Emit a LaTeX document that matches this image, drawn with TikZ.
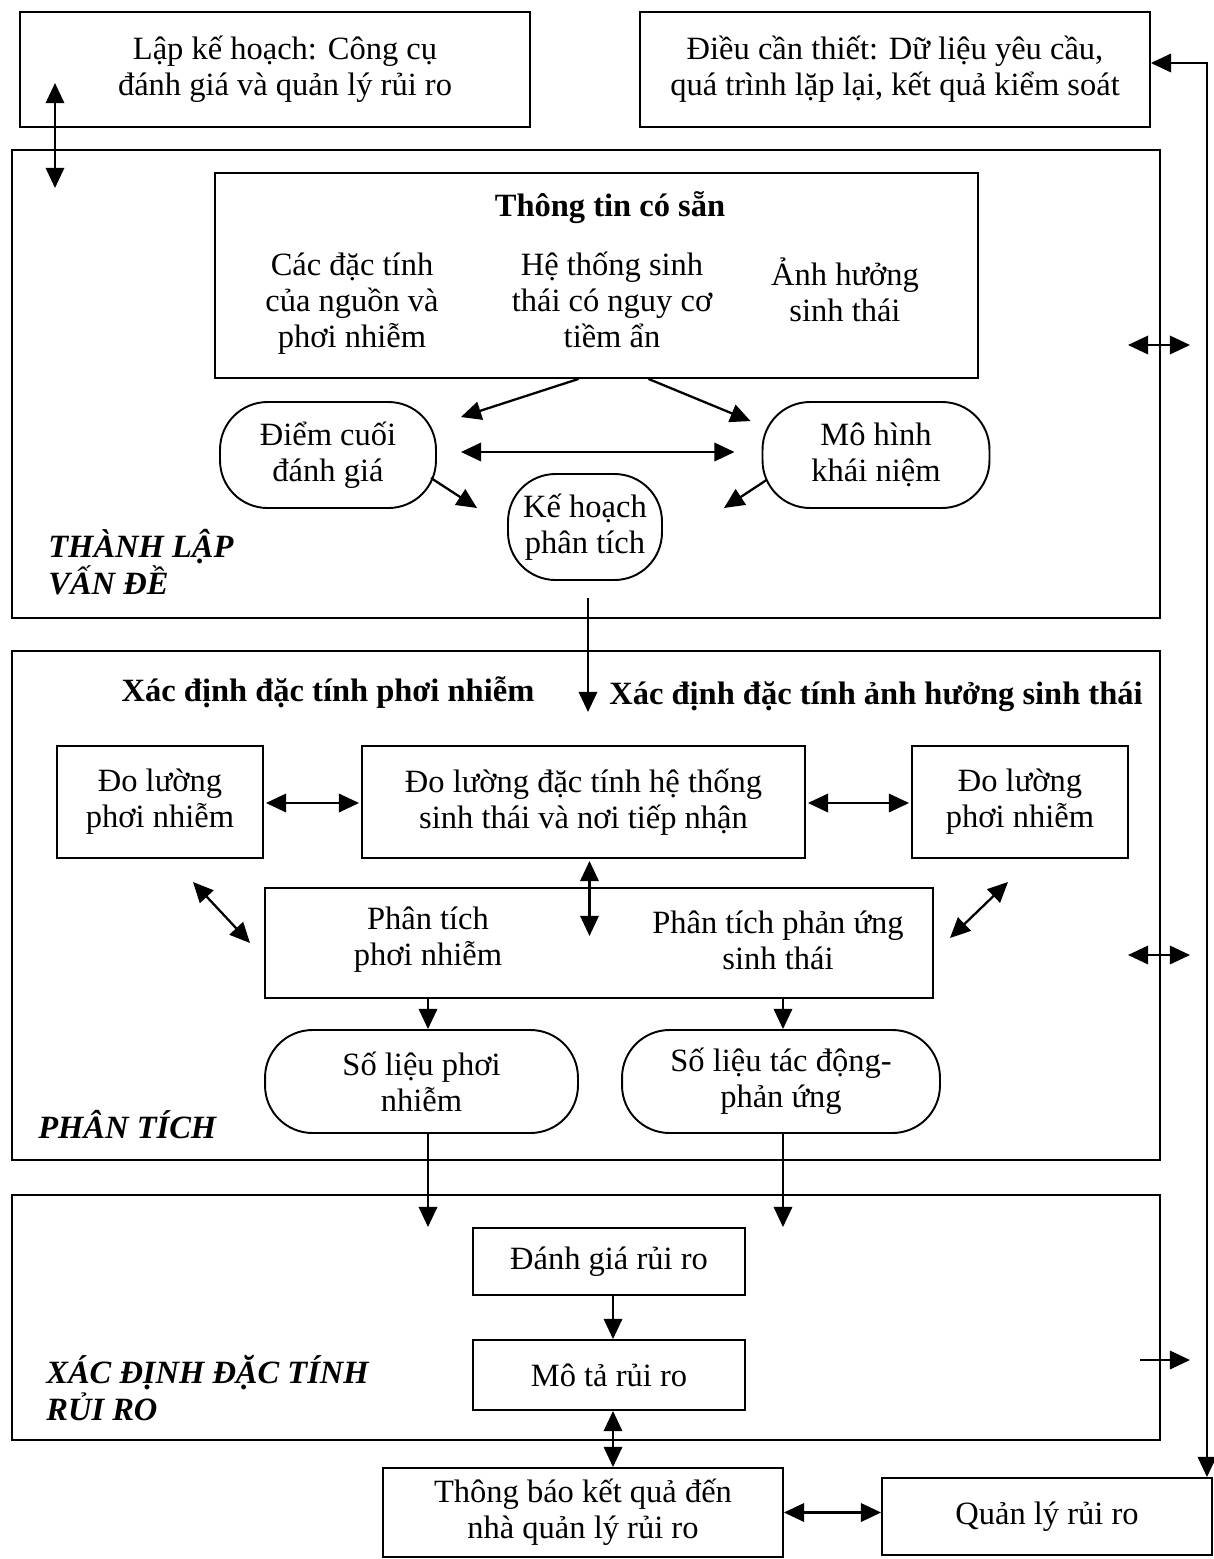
\documentclass[tikz,border=0pt]{standalone}
\usepackage{fontspec}
\setmainfont{Liberation Serif}
\usetikzlibrary{arrows.meta,calc}
\begin{document}
\begin{tikzpicture}[x=0.02cm,y=-0.02cm,
  every node/.style={font=\fontsize{18.5}{20.5}\selectfont, align=center, inner sep=0pt},
  box/.style={draw, line width=1.1pt, rectangle},
  pill/.style={draw, line width=1.1pt, rectangle, rounded corners=0.95cm},
  frame/.style={draw, line width=1.4pt},
  stage/.style={font=\fontsize{18.5}{21}\selectfont\bfseries\itshape, align=left, anchor=west},
  head/.style={font=\fontsize{18.5}{20.5}\selectfont\bfseries},
  arr/.style={line width=1.3pt, -{Triangle[length=11.5pt,width=10.5pt]}},
  darr/.style={line width=1.3pt, {Triangle[length=11.5pt,width=10.5pt]}-{Triangle[length=11.5pt,width=10.5pt]}}
]
\useasboundingbox (0,0) rectangle (1214,1559);

% ---------- top boxes ----------
\node[box, minimum width=10.2cm, minimum height=2.3cm] (plan0) at (275,69.5)
  {\hspace*{0.4cm}Lập kế hoạch: Công cụ\\\hspace*{0.4cm}đánh giá và quản lý rủi ro};
\node[box, minimum width=10.2cm, minimum height=2.3cm] (need) at (895,69.5)
  {Điều cần thiết: Dữ liệu yêu cầu,\\quá trình lặp lại, kết quả kiểm soát};

% ---------- stage frames ----------
\draw[frame] (12,150) rectangle (1160,618);
\draw[frame] (12,651) rectangle (1160,1160);
\draw[frame] (12,1195) rectangle (1160,1440);

\node[stage] (st1) at (48,562) {THÀNH LẬP\\VẤN ĐỀ};
\node[stage] (st2) at (38,1125) {PHÂN TÍCH};
\node[stage] (st3) at (46,1388) {XÁC ĐỊNH ĐẶC TÍNH\\RỦI RO};

% ---------- problem formulation ----------
\node[box, minimum width=15.26cm, minimum height=4.1cm] (info) at (596.5,275.5) {};
\node[head] (infot) at (610,208) {Thông tin có sẵn};
\node (src) at (352,304) {Các đặc tính\\của nguồn và\\phơi nhiễm};
\node (eco) at (612,300) {Hệ thống sinh\\thái có nguy cơ\\tiềm ẩn};
\node (eff) at (845,290) {Ảnh hưởng\\sinh thái};

\node[pill, minimum width=4.32cm, minimum height=2.12cm] (endpt) at (328,455) {Điểm cuối\\đánh giá};
\node[pill, minimum width=4.54cm, minimum height=2.12cm] (model) at (876,455) {Mô hình\\khái niệm};
\node[pill, minimum width=3.08cm, minimum height=2.12cm] (aplan) at (585,527) {Kế hoạch\\phân tích};

\draw[arr] ($(info.south)+(-18,0)$) -- ($(endpt.north east)+(24,16)$);
\draw[arr] ($(info.south)+(52,0)$) -- ($(model.north west)+(-11,20)$);
\draw[darr] ($(endpt.east)+(24,-3)$) -- ($(model.west)+(-27,-3)$);
\draw[arr] ($(endpt.east)+(-6,23)$) -- ($(aplan.west)+(-30,-19)$);
\draw[arr] ($(model.west)+(5,25)$) -- ($(aplan.east)+(61,-19)$);

\coordinate (down1) at (588,712);
\draw[arr] ($(aplan.south)+(3,17)$) -- (down1);

% ---------- analysis ----------
\node[head] (hexp) at (328,693) {Xác định đặc tính phơi nhiễm};
\node[head] (heco) at (876,697) {Xác định đặc tính ảnh hưởng sinh thái};

\node[box, minimum width=4.12cm, minimum height=2.24cm] (measL) at (160,802) {Đo lường\\phơi nhiễm};
\node[box, minimum width=8.86cm, minimum height=2.24cm] (measM) at (583.5,802) {Đo lường đặc tính hệ thống\\sinh thái và nơi tiếp nhận};
\node[box, minimum width=4.32cm, minimum height=2.24cm] (measR) at (1020,802) {Đo lường\\phơi nhiễm};

\draw[darr] ($(measL.east)+(2,1)$) -- ($(measM.west)+(-2,1)$);
\draw[darr] ($(measM.east)+(2,1)$) -- ($(measR.west)+(-2,1)$);

\node[box, minimum width=13.36cm, minimum height=2.2cm] (anal) at (599,943) {};
\node (aexp) at (428,940) {Phân tích\\phơi nhiễm};
\node (aeco) at (778,940) {Phân tích phản ứng\\sinh thái};

\draw[darr] ($(measM.south)+(6,2)$) -- ($(measM.south)+(6,77)$);
\coordinate (dL1) at (193,882);
\coordinate (dL2) at (250,943);
\draw[darr] (dL1) -- (dL2);
\coordinate (dR1) at (1008,882);
\coordinate (dR2) at (950,938);
\draw[darr] (dR1) -- (dR2);

\node[pill, minimum width=6.26cm, minimum height=2.06cm] (dataL) at (421.5,1081.5) {Số liệu phơi\\nhiễm};
\node[pill, minimum width=6.36cm, minimum height=2.06cm] (dataR) at (781,1081.5) {Số liệu tác động-\\phản ứng};

\coordinate (cL) at (428,0);
\coordinate (cR) at (783,0);
\draw[arr] (cL |- anal.south) -- (cL |- dataL.north);
\draw[arr] (cR |- anal.south) -- (cR |- dataR.north);

% ---------- risk characterization ----------
\node[box, minimum width=5.44cm, minimum height=1.34cm] (reval) at (609,1261.5) {Đánh giá rủi ro};
\node[box, minimum width=5.44cm, minimum height=1.4cm] (rdesc) at (609,1375) {Mô tả rủi ro};

\draw[arr] (cL |- dataL.south) -- (cL |- reval.north);
\draw[arr] (cR |- dataR.south) -- (cR |- reval.north);

\coordinate (cM) at (613,0);
\draw[arr] (cM |- reval.south) -- (cM |- rdesc.north);

\node[box, minimum width=8cm, minimum height=1.78cm] (comm) at (583,1512.5) {Thông báo kết quả đến\\nhà quản lý rủi ro};
\node[box, minimum width=6.6cm, minimum height=1.54cm] (mgmt) at (1047,1516.5) {Quản lý rủi ro};

\draw[darr] (cM |- rdesc.south) -- (cM |- comm.north);
\draw[darr] (comm.east) -- (comm.east -| mgmt.west);

% ---------- links across the frames ----------
\coordinate (la1) at (55,83);
\coordinate (la2) at (55,188);
\draw[darr] (la1) -- (la2);

\coordinate (fbT) at (1207,63);
\draw[darr] ($(need.east)+(0,-6.5)$) -- (fbT) -- (fbT |- mgmt.north);

\coordinate (x1a) at (1128,345);
\coordinate (x1b) at (1190,345);
\draw[darr] (x1a) -- (x1b);
\coordinate (x2a) at (1128,955);
\coordinate (x2b) at (1190,955);
\draw[darr] (x2a) -- (x2b);
\coordinate (x3a) at (1140,1360);
\coordinate (x3b) at (1190,1360);
\draw[arr] (x3a) -- (x3b);
\end{tikzpicture}
\end{document}
